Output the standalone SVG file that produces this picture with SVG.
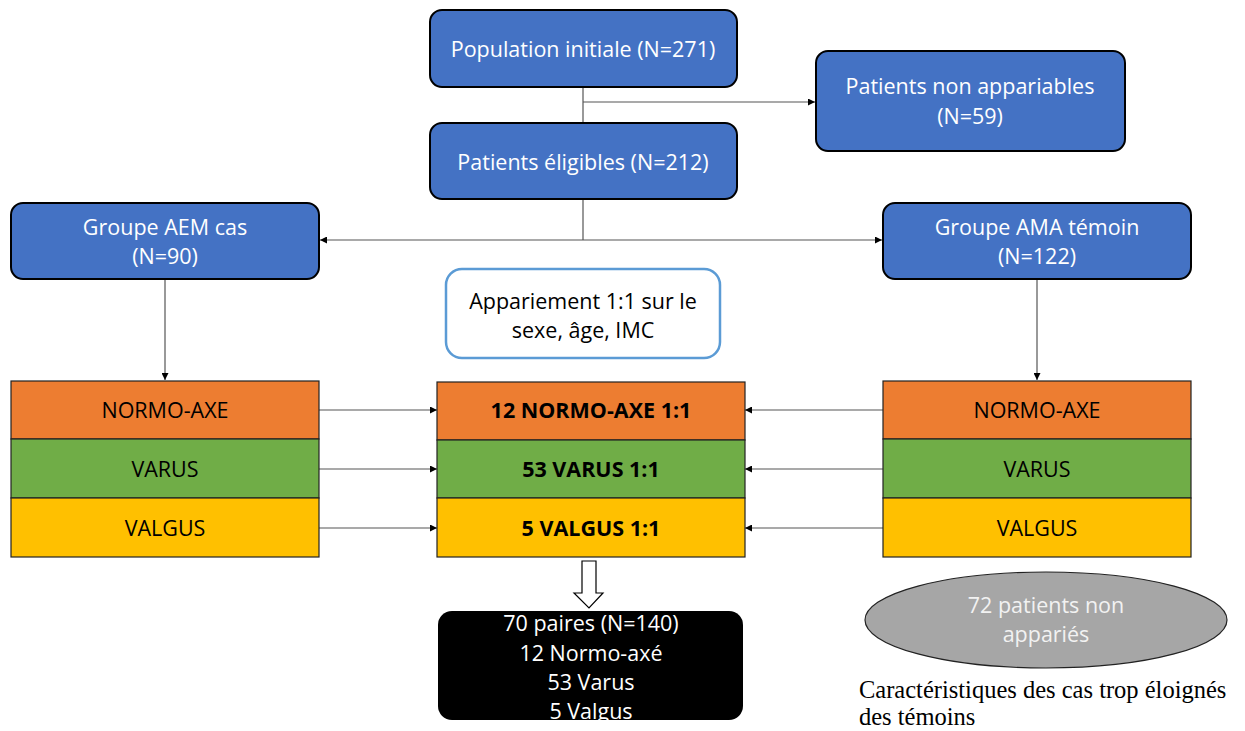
<svg xmlns="http://www.w3.org/2000/svg" width="1245" height="731" viewBox="0 0 1245 731">
<style>
.t{font-family:"Open Sans","Noto Sans",sans-serif;font-size:21.5px;text-anchor:middle}
.w{fill:#fff}
.k{fill:#000}
.b{font-weight:bold}
.blue{fill:#4472C4;stroke:#000;stroke-width:2}
.or{fill:#ED7D31;stroke:#222;stroke-width:1.2}
.gr{fill:#70AD47;stroke:#222;stroke-width:1.2}
.ye{fill:#FFC000;stroke:#222;stroke-width:1.2}
.c{stroke:#555;stroke-width:1.2;fill:none}
.ca{stroke:#555;stroke-width:1.2;fill:none;marker-end:url(#ah)}
</style>
<defs>
<marker id="ah" viewBox="0 0 10 10" refX="10" refY="5" markerWidth="7" markerHeight="7" markerUnits="userSpaceOnUse" orient="auto">
<path d="M0,0 L10,5 L0,10 z" fill="#000"/>
</marker>
</defs>
<rect width="1245" height="731" fill="#fff"/>
<g id="connectors">
<path class="c" d="M583,87 V123"/>
<path class="ca" d="M583,102 H815"/>
<path class="c" d="M583,199 V240"/>
<path class="ca" d="M583,240 H320"/>
<path class="ca" d="M583,240 H882"/>
<path class="ca" d="M165,279 V380"/>
<path class="ca" d="M1037,279 V380"/>
<path class="ca" d="M319,410 H437"/>
<path class="ca" d="M319,469 H437"/>
<path class="ca" d="M319,528 H437"/>
<path class="ca" d="M883,410 H745"/>
<path class="ca" d="M883,469 H745"/>
<path class="ca" d="M883,528 H745"/>
<path d="M582,561 H596 V593 H603 L589,608 L574,593 H582 Z" fill="#fff" stroke="#000" stroke-width="1.2"/>
</g>
<g id="pop">
<rect class="blue" x="430" y="10" width="307" height="77" rx="12"/>
<text class="t w" x="583" y="57">Population initiale (N=271)</text>
</g>
<g id="nonapp">
<rect class="blue" x="816" y="51" width="309" height="100" rx="12"/>
<text class="t w" x="970" y="94">Patients non appariables</text>
<text class="t w" x="970" y="124">(N=59)</text>
</g>
<g id="elig">
<rect class="blue" x="430" y="123" width="307" height="76" rx="12"/>
<text class="t w" x="583" y="170">Patients éligibles (N=212)</text>
</g>
<g id="aem">
<rect class="blue" x="11" y="203" width="308" height="76" rx="12"/>
<text class="t w" x="165" y="235">Groupe AEM cas</text>
<text class="t w" x="165" y="264">(N=90)</text>
</g>
<g id="ama">
<rect class="blue" x="883" y="203" width="308" height="76" rx="12"/>
<text class="t w" x="1037" y="235">Groupe AMA témoin</text>
<text class="t w" x="1037" y="264">(N=122)</text>
</g>
<g id="appariement">
<rect x="446" y="269" width="274" height="89" rx="16" fill="#fff" stroke="#5B9BD5" stroke-width="2.5"/>
<text class="t k" x="583" y="309">Appariement 1:1 sur le</text>
<text class="t k" x="583" y="338">sexe, âge, IMC</text>
</g>
<g id="left-stack">
<rect class="or" x="11" y="381" width="308" height="58"/>
<rect class="gr" x="11" y="439" width="308" height="59"/>
<rect class="ye" x="11" y="498" width="308" height="59"/>
<text class="t k" x="165" y="418">NORMO-AXE</text>
<text class="t k" x="165" y="477">VARUS</text>
<text class="t k" x="165" y="536">VALGUS</text>
</g>
<g id="center-stack">
<rect class="or" x="437" y="382" width="308" height="58"/>
<rect class="gr" x="437" y="440" width="308" height="58"/>
<rect class="ye" x="437" y="498" width="308" height="59"/>
<text class="t k b" x="591" y="418">12 NORMO-AXE 1:1</text>
<text class="t k b" x="591" y="477">53 VARUS 1:1</text>
<text class="t k b" x="591" y="536">5 VALGUS 1:1</text>
</g>
<g id="right-stack">
<rect class="or" x="883" y="381" width="308" height="58"/>
<rect class="gr" x="883" y="439" width="308" height="59"/>
<rect class="ye" x="883" y="498" width="308" height="59"/>
<text class="t k" x="1037" y="418">NORMO-AXE</text>
<text class="t k" x="1037" y="477">VARUS</text>
<text class="t k" x="1037" y="536">VALGUS</text>
</g>
<g id="result">
<rect x="438" y="611" width="305" height="109" rx="14" fill="#000"/>
<text class="t w" x="591" y="631">70 paires (N=140)</text>
<text class="t w" x="591" y="661">12 Normo-axé</text>
<text class="t w" x="591" y="690">53 Varus</text>
<text class="t w" x="591" y="719">5 Valgus</text>
</g>
<g id="nonapparies">
<ellipse cx="1046" cy="620" rx="181" ry="48" fill="#A6A6A6" stroke="#222" stroke-width="1.2"/>
<text class="t" x="1046" y="613" fill="#f2f2f2">72 patients non</text>
<text class="t" x="1046" y="642" fill="#f2f2f2">appariés</text>
</g>
<g id="caption">
<text x="859" y="698" font-family="Liberation Serif,serif" font-size="24.5" fill="#000">Caractéristiques des cas trop éloignés</text>
<text x="859" y="725" font-family="Liberation Serif,serif" font-size="24.5" fill="#000">des témoins</text>
</g>
</svg>
